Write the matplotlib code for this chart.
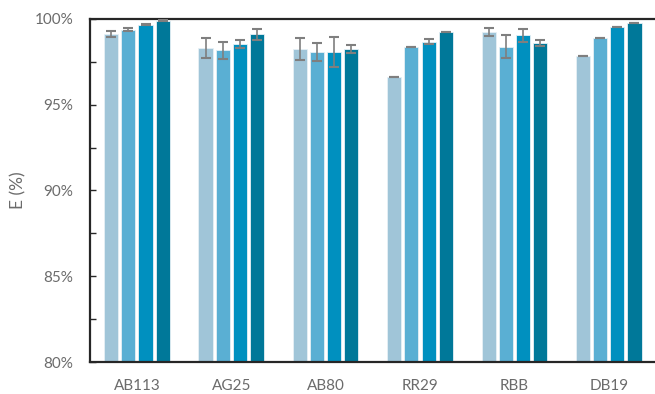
import matplotlib
matplotlib.use("Agg")
import matplotlib.pyplot as plt
from matplotlib.ticker import MultipleLocator, FuncFormatter
import numpy as np

dyes = ["AB113", "AG25", "AB80", "RR29", "RBB", "DB19"]

# removal efficiency (%) for the four conditions, per dye
s1 = [99.12, 98.29, 98.25, 96.62, 99.24, 97.84]
s2 = [99.38, 98.17, 98.08, 98.37, 98.37, 98.89]
s3 = [99.67, 98.54, 98.08, 98.68, 99.05, 99.53]
s4 = [99.88, 99.11, 98.25, 99.24, 98.60, 99.77]

e1 = [0.16, 0.58, 0.66, 0.02, 0.21, 0.02]
e2 = [0.10, 0.50, 0.51, 0.02, 0.67, 0.02]
e3 = [0.05, 0.26, 0.87, 0.13, 0.38, 0.02]
e4 = [0.03, 0.33, 0.24, 0.02, 0.15, 0.02]

colors = ["#A0C5D8", "#5AAFD3", "#0090BF", "#007899"]

plt.rcParams["font.family"] = ["Lato", "DejaVu Sans"]

fig = plt.figure(figsize=(6.55, 3.94), dpi=100)
ax = fig.add_axes([0.137, 0.081, 0.873, 0.871])

x = np.arange(len(dyes))
slot = 0.182
w = 0.15
series = [(s1, e1), (s2, e2), (s3, e3), (s4, e4)]
for i, (vals, errs) in enumerate(series):
    off = (i - 1.5) * slot
    ax.bar(x + off, vals, width=w, color=colors[i], edgecolor="#e6f0f5",
           linewidth=0.6, zorder=2)
    ax.errorbar(x + off, vals, yerr=errs, fmt="none", ecolor="#7f7f7f",
                elinewidth=1.2, capsize=3.3, capthick=1.5, zorder=3)

ax.set_xlim(-0.5, len(dyes) - 0.5 + 0.06)
ax.set_ylim(80, 100)
ax.set_xticks(x)
ax.set_xticklabels(dyes)
ax.yaxis.set_major_locator(MultipleLocator(5))
ax.yaxis.set_minor_locator(MultipleLocator(2.5))
ax.yaxis.set_major_formatter(FuncFormatter(lambda v, p: f"{v:.0f}%"))

for side in ["left", "bottom", "top"]:
    ax.spines[side].set_color("#262626")
    ax.spines[side].set_linewidth(1.6)
ax.spines["right"].set_visible(False)

ax.tick_params(axis="y", which="both", direction="in", length=4, width=1,
               color="#262626", labelsize=11, labelcolor="#6b6b6b", pad=12)
ax.tick_params(axis="x", length=0, labelsize=11, labelcolor="#6b6b6b", pad=12)
ax.set_ylabel("E (%)", fontsize=12.5, color="#6b6b6b", labelpad=6)

fig.savefig("out.png", dpi=100)
